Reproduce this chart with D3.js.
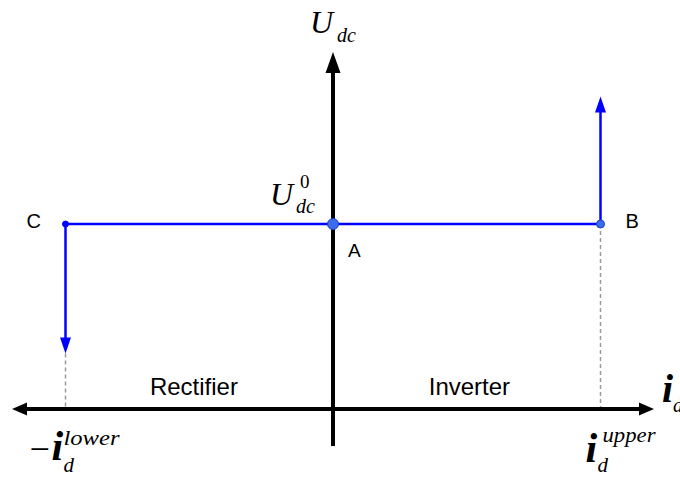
<!DOCTYPE html>
<html>
<head>
<meta charset="utf-8">
<script src="https://cdn.jsdelivr.net/npm/d3@7/dist/d3.min.js"></script>
<style>
  html, body { margin: 0; padding: 0; background: #fff; }
  svg { display: block; }
  .math { font-family: "Liberation Serif", "Times New Roman", serif; font-style: italic; }
  .roman { font-family: "Liberation Serif", "Times New Roman", serif; }
  .sans { font-family: "Liberation Sans", Arial, sans-serif; }
</style>
</head>
<body>
<svg id="chart" width="680" height="477"></svg>
<script>
// Operating characteristic of a DC converter in the (i_d, U_dc) plane
const axisX = [-1.2, 1.2];          // current axis extent (arrow tip to arrow tip)
const axisY = [-0.2, 1.93];         // voltage axis extent (bottom end to arrow tip)
const uDc0 = 1;                     // no-load DC voltage, point A
const iUpper = 1;                   // inverter current limit, point B
const iLower = 1;                   // rectifier current limit, point C
const upperArrowEnd = 1.69;         // B branch rises vertically
const lowerArrowEnd = 0.30;         // C branch falls vertically
const points = [
  { name: "A", i: 0, u: uDc0 },
  { name: "B", i: iUpper, u: uDc0 },
  { name: "C", i: -iLower, u: uDc0 }
];
const regions = [
  { label: "Rectifier", i: -0.52 },
  { label: "Inverter", i: 0.51 }
];

const svg = d3.select("#chart");
const x = d3.scaleLinear().domain(axisX).range([12, 654]);
const y = d3.scaleLinear().domain(axisY).range([446, 52]);

const blue = "#0000ff";

// arrowhead polygon: tip at (tx,ty), pointing along (dx,dy)
function arrowHead(tx, ty, dx, dy, len, halfW, fill) {
  const px = -dy, py = dx;
  const bx = tx - dx * len, by = ty - dy * len;
  svg.append("path")
    .attr("d", `M${tx},${ty}L${bx + px * halfW},${by + py * halfW}L${bx - px * halfW},${by - py * halfW}Z`)
    .attr("fill", fill);
}

// dashed guides from current limits down to the i_d axis
[-iLower, iUpper].forEach(v => {
  svg.append("line")
    .attr("x1", x(v)).attr("x2", x(v))
    .attr("y1", y(v < 0 ? lowerArrowEnd : uDc0)).attr("y2", y(0))
    .attr("stroke", "#9a9a9a").attr("stroke-width", 1.5)
    .attr("stroke-dasharray", "4,3");
});

// axes
svg.append("line")
  .attr("x1", x(axisX[0]) + 12).attr("x2", x(axisX[1]) - 12)
  .attr("y1", y(0)).attr("y2", y(0))
  .attr("stroke", "#000").attr("stroke-width", 4);
arrowHead(x(axisX[0]), y(0), -1, 0, 15, 6.5, "#000");
arrowHead(x(axisX[1]), y(0), 1, 0, 15, 6.5, "#000");

svg.append("line")
  .attr("x1", x(0)).attr("x2", x(0))
  .attr("y1", y(axisY[0])).attr("y2", y(axisY[1]) + 18)
  .attr("stroke", "#000").attr("stroke-width", 4);
arrowHead(x(0), y(axisY[1]), 0, -1, 21, 7.5, "#000");

// characteristic: C -> A -> B horizontal, vertical branches at the limits
svg.append("line")
  .attr("x1", x(-iLower)).attr("x2", x(iUpper))
  .attr("y1", y(uDc0)).attr("y2", y(uDc0))
  .attr("stroke", blue).attr("stroke-width", 2.5);

svg.append("line")
  .attr("x1", x(iUpper)).attr("x2", x(iUpper))
  .attr("y1", y(uDc0)).attr("y2", y(upperArrowEnd) + 12)
  .attr("stroke", blue).attr("stroke-width", 2.5);
arrowHead(x(iUpper), y(upperArrowEnd), 0, -1, 16, 5.5, blue);

svg.append("line")
  .attr("x1", x(-iLower)).attr("x2", x(-iLower))
  .attr("y1", y(uDc0)).attr("y2", y(lowerArrowEnd) - 12)
  .attr("stroke", blue).attr("stroke-width", 2.5);
arrowHead(x(-iLower), y(lowerArrowEnd), 0, 1, 16, 5.5, blue);

// operating points
const pointStyle = {
  A: { r: 5.5, fill: "#3a6cf0", stroke: "#1f3fbf" },
  B: { r: 4, fill: "#3a6cf0", stroke: "#1f3fbf" },
  C: { r: 3, fill: blue, stroke: blue }
};
svg.selectAll("circle.pt").data(points).enter().append("circle")
  .attr("class", "pt")
  .attr("cx", d => x(d.i)).attr("cy", d => y(d.u))
  .attr("r", d => pointStyle[d.name].r)
  .attr("fill", d => pointStyle[d.name].fill)
  .attr("stroke", d => pointStyle[d.name].stroke).attr("stroke-width", 1);

// point labels
const labelPos = { A: [15, 33, 19], B: [25, 4, 20], C: [-39, 4, 20] };
svg.selectAll("text.pt").data(points).enter().append("text")
  .attr("class", "sans")
  .attr("x", d => x(d.i) + labelPos[d.name][0])
  .attr("y", d => y(d.u) + labelPos[d.name][1])
  .attr("font-size", d => labelPos[d.name][2])
  .text(d => d.name);

// region labels
svg.selectAll("text.reg").data(regions).enter().append("text")
  .attr("class", "sans")
  .attr("x", d => x(d.i)).attr("y", y(0) - 14)
  .attr("text-anchor", "middle").attr("font-size", 24)
  .text(d => d.label);

// math labels
function mathText(px, py, str, size, cls, weight, len) {
  const t = svg.append("text").attr("class", cls || "math")
    .attr("x", px).attr("y", py).attr("font-size", size)
    .attr("font-weight", weight || "normal").text(str);
  if (len) t.attr("textLength", len).attr("lengthAdjust", "spacingAndGlyphs");
  return t;
}

// U_dc axis title
mathText(x(0) - 23, 33, "U", 32);
mathText(x(0) + 4, 42, "dc", 20);

// U_dc^0 at point A
mathText(x(0) - 63, 205, "U", 32);
mathText(x(0) - 33, 188, "0", 19, "roman");
mathText(x(0) - 37, 213, "dc", 20);

// i_d axis title
mathText(x(axisX[1]) + 8, 402, "i", 40, "math", "bold");
mathText(x(axisX[1]) + 19, 412, "d", 20);

// -i_d^lower
mathText(x(-iLower) - 36, 461, "\u2212", 36, "roman");
mathText(x(-iLower) - 14, 460, "i", 42, "math", "bold");
mathText(x(-iLower) - 2, 445, "lower", 20, "math", "normal", 56);
mathText(x(-iLower) - 2, 472, "d", 21);

// i_d^upper
mathText(x(iUpper) - 15, 462, "i", 42, "math", "bold");
mathText(x(iUpper) + 2, 442, "upper", 20, "math", "normal", 53);
mathText(x(iUpper) - 3, 472, "d", 21);
</script>
</body>
</html>
